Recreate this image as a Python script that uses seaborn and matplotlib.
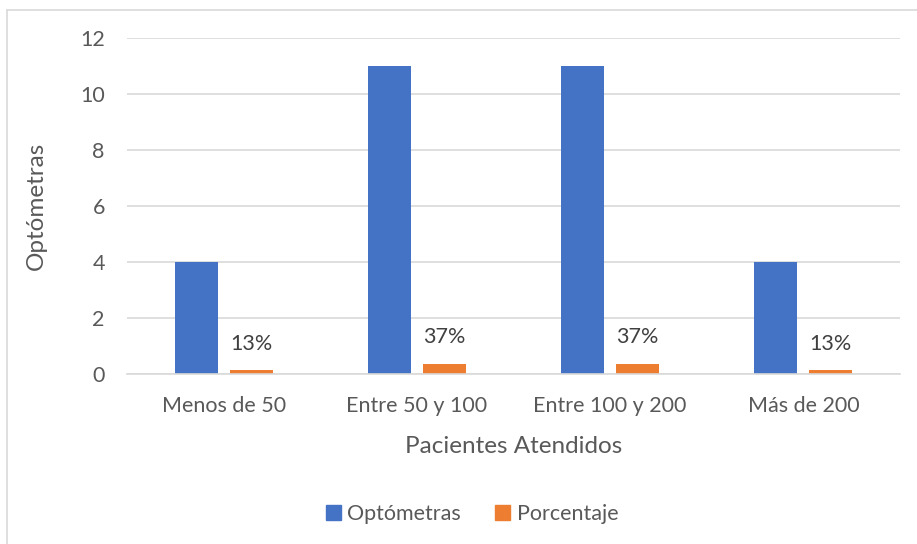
import matplotlib
matplotlib.use("Agg")
import matplotlib.pyplot as plt
import seaborn as sns
import pandas as pd
from matplotlib.lines import Line2D

categories = ["Menos de 50", "Entre 50 y 100", "Entre 100 y 200", "Más de 200"]
optometras = [4, 11, 11, 4]
porcentaje = [0.13, 0.37, 0.37, 0.13]
series_names = ["Optómetras", "Porcentaje"]
yticks = [0, 2, 4, 6, 8, 10, 12]

df = pd.DataFrame({
    "cat": categories * 2,
    "serie": [series_names[0]] * 4 + [series_names[1]] * 4,
    "val": optometras + porcentaje,
})

sns.set_theme(style="white")
plt.rcParams["font.family"] = ["Lato", "DejaVu Sans"]
txt = "#595959"

fig = plt.figure(figsize=(9.17, 5.44), dpi=100)
ax = fig.add_axes([127/917, 1-374/544, (900-127)/917, (374-38)/544])

sns.barplot(data=df, x="cat", y="val", hue="serie", order=categories,
            hue_order=series_names, palette=["#4472C4", "#ED7D31"],
            width=0.57, gap=0.22, ax=ax, legend=True, saturation=1,
            linewidth=0, edgecolor="none")

ax.set_ylim(0, 12)
ax.set_yticks(yticks)
ax.set_yticklabels([str(t) for t in yticks], color=txt, fontsize=15.5)
ax.tick_params(axis="x", colors=txt, labelsize=15.5, length=0, pad=16)
ax.tick_params(axis="y", length=0, pad=16)
ax.grid(axis="y", color="#D9D9D9", linewidth=1.2)
ax.set_axisbelow(True)
for s in ["left", "right", "top"]:
    ax.spines[s].set_visible(False)
ax.spines["bottom"].set_color("#D9D9D9")
ax.spines["bottom"].set_linewidth(1.2)

ax.set_xlabel("Pacientes Atendidos", color=txt, fontsize=17.5, labelpad=14)
ax.set_ylabel("Optómetras", color=txt, fontsize=17.5, labelpad=24)

cont = ax.containers[1]
ax.bar_label(cont, labels=[f"{round(v*100)}%" for v in porcentaje],
             padding=12, color="#404040", fontsize=15.5)

ax.get_legend().remove()
handles = [plt.Rectangle((0, 0), 1, 1, color=c) for c in ["#4472C4", "#ED7D31"]]
fig.legend(handles, series_names, loc="center", bbox_to_anchor=(472/917, 1-514/544),
           ncol=2, frameon=False, fontsize=15.5, handlelength=0.7, handleheight=0.7,
           handletextpad=0.3, columnspacing=1.6, labelcolor=txt)

fig.add_artist(Line2D([7/917, 7/917], [0, 1-10/544], color="#D9D9D9", lw=1.2, transform=fig.transFigure))
fig.add_artist(Line2D([7/917, 1], [1-10/544, 1-10/544], color="#D9D9D9", lw=1.2, transform=fig.transFigure))

fig.savefig("out.png", dpi=100)
